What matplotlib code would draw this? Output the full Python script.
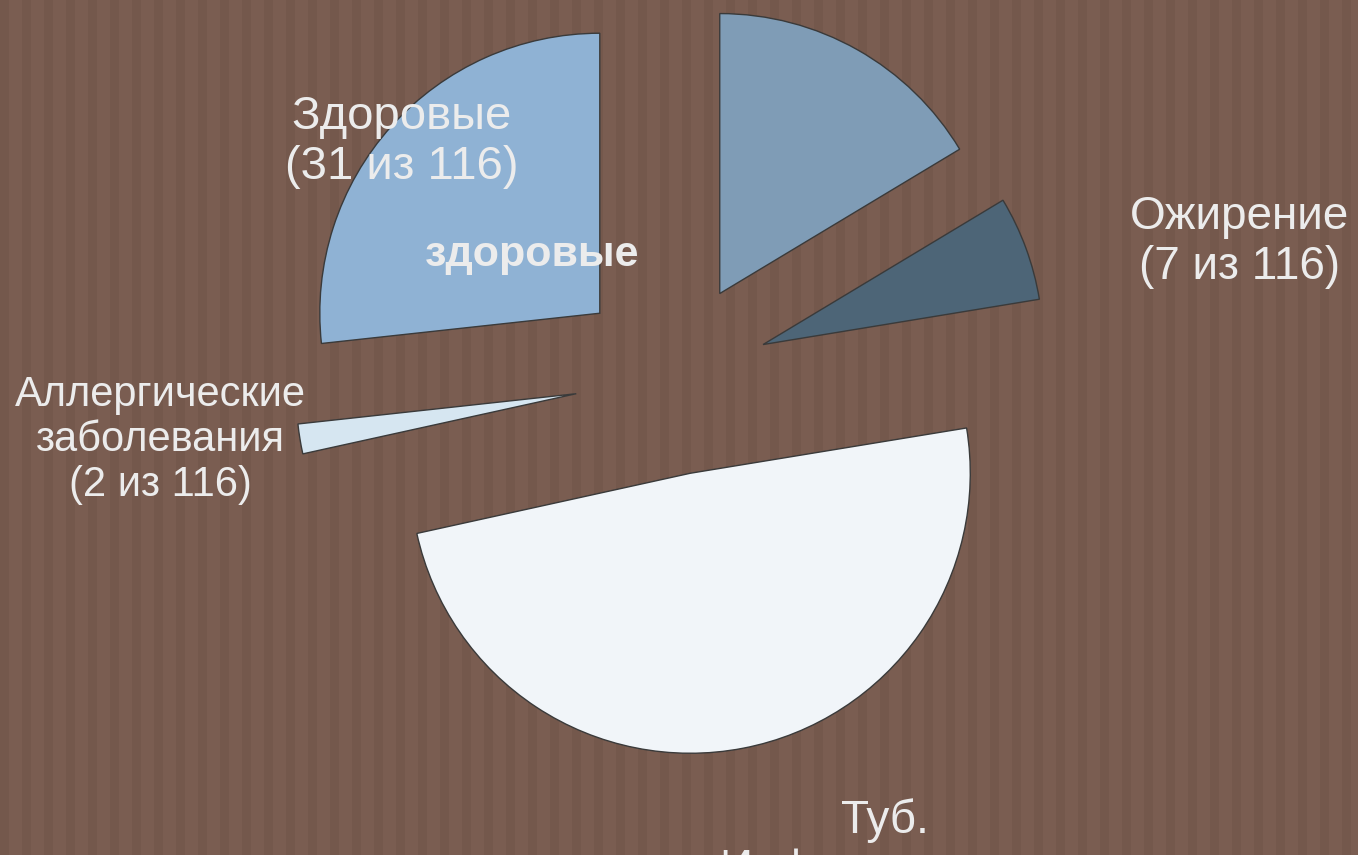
import matplotlib
matplotlib.use('Agg')
import matplotlib.pyplot as plt

# data (counterclockwise from the top)
categories = ['Здоровые', 'Аллергические\nзаболевания', 'Туб.\nИнфицированы', 'Ожирение', '']
counts = [31, 2, 57, 7, 19]
total = 116
colors = ['#8fb2d4', '#d6e6f1', '#f1f5f9', '#4d6577', '#7f9cb6']

W, H = 1358, 855
bg = '#7a5d51'
stripe = '#74584c'
txt = '#ececec'

fig = plt.figure(figsize=(W / 100, H / 100), dpi=100)
fig.patch.set_facecolor(bg)
ax = fig.add_axes([0, 0, 1, 1])
ax.set_facecolor(bg)

# striped background
for x in range(0, W, 22):
    ax.axvspan(x, x + 9, color=stripe, lw=0, zorder=0)

wedges, _ = ax.pie(counts, colors=colors, startangle=90, counterclock=True,
                   radius=280, center=(672, H - 378), explode=[97] * len(counts),
                   wedgeprops={'edgecolor': '#3a3a3a', 'linewidth': 1.0},
                   frame=True)
for w in wedges:
    w.set_zorder(2)
ax.set_xlim(0, W)
ax.set_ylim(0, H)
ax.set_aspect('equal')
ax.axis('off')

font = 'Liberation Sans'
lbl = lambda i: '%s\n(%d из %d)' % (categories[i], counts[i], total)

ax.text(402, H - 142, lbl(0), ha='center', va='center', fontsize=34,
        color=txt, family=font, linespacing=1.15, zorder=3)
ax.text(532, H - 255, 'здоровые', ha='center', va='center', fontsize=31,
        color=txt, family=font, fontweight='semibold', zorder=3)
ax.text(1240, H - 242, lbl(3), ha='center', va='center', fontsize=33,
        color=txt, family=font, linespacing=1.15, zorder=3)
ax.text(160, H - 440, lbl(1), ha='center', va='center', fontsize=30,
        color=txt, family=font, linespacing=1.15, zorder=3)
ax.text(885, H - 798, categories[2], ha='center', va='top', fontsize=33,
        color=txt, family=font, linespacing=1.15, zorder=3)

fig.savefig('out.png', dpi=100, facecolor=bg)
